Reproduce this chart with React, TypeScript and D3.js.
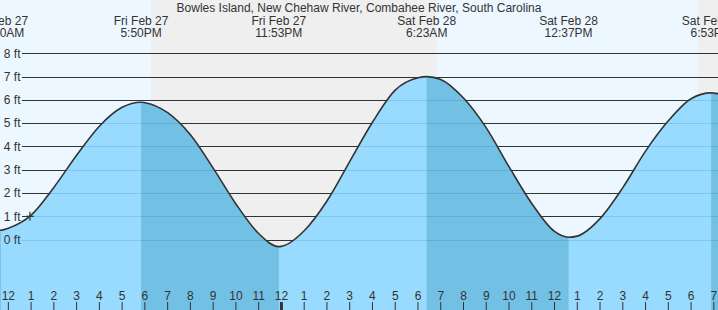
import React from "react";
import * as d3 from "d3";

const W = 718;
const H = 310;

const title = "Bowles Island, New Chehaw River, Combahee River, South Carolina";

// Tide extremes (high / low)
const extremeTimes = [
  "2026-02-27 11:40",
  "2026-02-27 17:50",
  "2026-02-27 23:53",
  "2026-02-28 06:23",
  "2026-02-28 12:37",
  "2026-02-28 18:53",
];
const extremeHeights = [0.4, 5.9, -0.3, 7.0, 0.1, 6.3];
const extremeDayLabels = ["Fri Feb 27", "Fri Feb 27", "Fri Feb 27", "Sat Feb 28", "Sat Feb 28", "Sat Feb 28"];
const extremeTimeLabels = ["11:40AM", "5:50PM", "11:53PM", "6:23AM", "12:37PM", "6:53PM"];

// Hourly readings (ft), starting Fri Feb 27 12:00 PM
const hourlyStart = "2026-02-27 12:00";
const hourlyHeights = [
  0.49, 1.05, 2.24, 3.62, 4.87, 5.68, 5.88, 5.45, 4.5, 3.07, 1.53, 0.26,
  -0.29, 0.38, 1.66, 3.35, 5.04, 6.42, 6.95, 6.88, 6.08, 4.8, 3.13, 1.55,
  0.35, 0.15, 0.9, 2.23, 3.8, 5.1, 6.05, 6.29,
];
// Readings at the left and right edges
const edgeTimes = ["2026-02-27 11:30", "2026-02-28 19:15"];
const edgeHeights = [0.42, 6.26];

// Sunrise / sunset
const sunsetTimes = ["2026-02-27 18:16", "2026-02-28 18:18"];
const sunriseTimes = ["2026-02-28 06:49"];

// Current time marker
const nowTime = "2026-02-27 12:57";
const nowHeight = 1.0;

const yTicks = [0, 1, 2, 3, 4, 5, 6, 7, 8];
const domainStart = "2026-02-27 11:38";
const domainEnd = "2026-02-28 19:11";

function parse(s: string): Date {
  const [d, t] = s.split(" ");
  const [y, m, dd] = d.split("-").map(Number);
  const [hh, mm] = t.split(":").map(Number);
  return new Date(y, m - 1, dd, hh, mm);
}

const FONT = "'Liberation Sans', Arial, sans-serif";
const TEXT = "#333";
const DAY = "#EDF7FF";
const NIGHT = "#EFEFEF";
const WATER_LIGHT = "#98DBFE";
const WATER_DARK = "#73C0E5";

export default function App() {
  const x = d3.scaleTime().domain([parse(domainStart), parse(domainEnd)]).range([0, W]);
  const y = d3.scaleLinear().domain([0, 8]).range([239.6, 53.3]);

  const hs = parse(hourlyStart);
  type P = { t: Date; v: number };
  const pts: P[] = [];
  edgeTimes.forEach((t, i) => pts.push({ t: parse(t), v: edgeHeights[i] }));
  extremeTimes.forEach((t, i) => pts.push({ t: parse(t), v: extremeHeights[i] }));
  hourlyHeights.forEach((v, i) => pts.push({ t: d3.timeHour.offset(hs, i), v }));
  pts.sort((a, b) => +a.t - +b.t);

  const area = d3
    .area<P>()
    .x((d) => x(d.t))
    .y0(H)
    .y1((d) => y(d.v))
    .curve(d3.curveMonotoneX)(pts) as string;
  const line = d3
    .line<P>()
    .x((d) => x(d.t))
    .y((d) => y(d.v))
    .curve(d3.curveMonotoneX)(pts) as string;

  // Night intervals
  const nights: [number, number][] = [];
  const ss = sunsetTimes.map(parse);
  const sr = sunriseTimes.map(parse);
  ss.forEach((s, i) => {
    const e = sr[i] ? x(sr[i]) : W;
    nights.push([x(s), e]);
  });

  // Falling tide intervals (dark water)
  const ext = extremeTimes.map(parse);
  const falling: [number, number][] = [];
  if (extremeHeights[0] < extremeHeights[1]) falling.push([0, x(ext[0])]);
  for (let i = 0; i < ext.length - 1; i++) {
    if (extremeHeights[i + 1] < extremeHeights[i]) falling.push([x(ext[i]), x(ext[i + 1])]);
  }
  const last = ext.length - 1;
  if (extremeHeights[last] > extremeHeights[last - 1]) falling.push([x(ext[last]), W]);

  const ticks = d3.timeHour.range(d3.timeHour.ceil(x.domain()[0]), x.domain()[1]);
  const fmt = d3.timeFormat("%-I");

  const gridX0 = 22;

  return (
    <svg
      width={W}
      height={H}
      style={{ position: "absolute", left: 0, top: 0, display: "block" }}
      fontFamily={FONT}
    >
      <defs>
        <clipPath id="water">
          <path d={area} />
        </clipPath>
      </defs>
      <rect x={0} y={0} width={W} height={H} fill={DAY} />
      {nights.map(([a, b], i) => (
        <rect key={i} x={a} y={0} width={b - a} height={H} fill={NIGHT} />
      ))}
      {yTicks.map((v) => (
        <line
          key={v}
          x1={gridX0}
          x2={W}
          y1={Math.round(y(v)) + 0.5}
          y2={Math.round(y(v)) + 0.5}
          stroke="#333"
          strokeWidth={1}
        />
      ))}
      <path d={area} fill={WATER_LIGHT} />
      <g clipPath="url(#water)">
        {falling.map(([a, b], i) => (
          <rect key={i} x={a} y={0} width={b - a} height={H} fill={WATER_DARK} />
        ))}
        {yTicks.map((v) => (
          <line
            key={v}
            x1={gridX0}
            x2={W}
            y1={Math.round(y(v)) + 0.5}
            y2={Math.round(y(v)) + 0.5}
            stroke="rgb(0,90,150)"
            strokeOpacity={0.16}
            strokeWidth={1}
          />
        ))}
      </g>
      <path d={line} fill="none" stroke="#333" strokeWidth={1.6} />
      <g stroke="#333" strokeWidth={1.2}>
        <line x1={x(parse(nowTime)) - 4} x2={x(parse(nowTime)) + 4} y1={y(nowHeight)} y2={y(nowHeight)} />
        <line x1={x(parse(nowTime))} x2={x(parse(nowTime))} y1={y(nowHeight) - 4.5} y2={y(nowHeight) + 4.5} />
      </g>
      {yTicks.map((v) => (
        <text key={v} x={20.5} y={y(v)} dy="0.35em" textAnchor="end" fontSize={12} fill={TEXT}>
          {`${v} ft`}
        </text>
      ))}
      {ticks.map((t, i) => {
        const isMid = t.getHours() === 0;
        const tx = x(t);
        return (
          <g key={i}>
            <line x1={tx} x2={tx} y1={302} y2={H} stroke="#333" strokeWidth={isMid ? 3 : 1} />
            <text x={tx} y={300} textAnchor="middle" fontSize={12} fill={TEXT}>
              {fmt(t)}
            </text>
          </g>
        );
      })}
      {ext.map((t, i) => (
        <g key={i}>
          <text x={x(t)} y={24.7} textAnchor="middle" fontSize={12} fill={TEXT}>
            {extremeDayLabels[i]}
          </text>
          <text x={x(t)} y={36.7} textAnchor="middle" fontSize={12} fill={TEXT}>
            {extremeTimeLabels[i]}
          </text>
        </g>
      ))}
      <text x={359} y={11.7} textAnchor="middle" fontSize={12} fill={TEXT}>
        {title}
      </text>
    </svg>
  );
}
